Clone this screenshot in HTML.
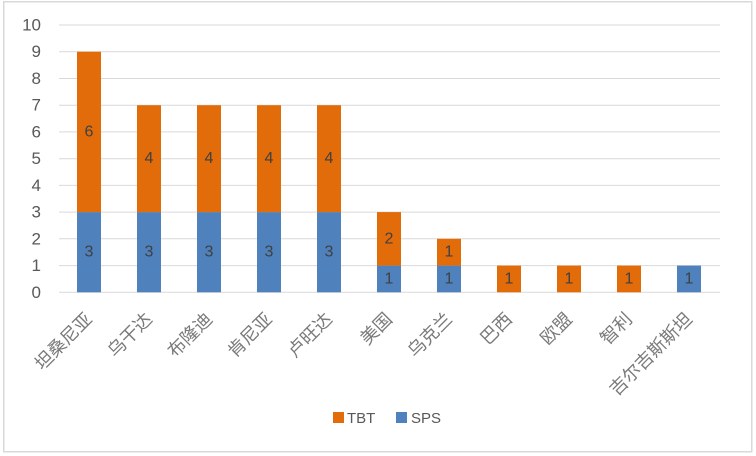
<!DOCTYPE html>
<html>
<head>
<meta charset="utf-8">
<style>
html,body{margin:0;padding:0;background:#fff;}
svg{display:block;}
</style>
</head>
<body>
<svg width="756" height="456" viewBox="0 0 756 456" xmlns="http://www.w3.org/2000/svg">
<rect x="0" y="0" width="756" height="456" fill="#fff"/>
<rect x="3.75" y="1.75" width="748" height="450" fill="#fff" stroke="#d9d9d9" stroke-width="1.5"/>
<!-- gridlines -->
<g stroke="#d9d9d9" stroke-width="1">
<line x1="59" x2="720" y1="25.0" y2="25.0"/>
<line x1="59" x2="720" y1="51.7" y2="51.7"/>
<line x1="59" x2="720" y1="78.5" y2="78.5"/>
<line x1="59" x2="720" y1="105.2" y2="105.2"/>
<line x1="59" x2="720" y1="131.9" y2="131.9"/>
<line x1="59" x2="720" y1="158.7" y2="158.7"/>
<line x1="59" x2="720" y1="185.4" y2="185.4"/>
<line x1="59" x2="720" y1="212.1" y2="212.1"/>
<line x1="59" x2="720" y1="238.8" y2="238.8"/>
<line x1="59" x2="720" y1="265.6" y2="265.6"/>
<line x1="59" x2="720" y1="292.3" y2="292.3"/>
</g>
<!-- y tick labels -->
<g font-family="Liberation Sans, sans-serif" font-size="17" fill="#595959" text-anchor="end" dominant-baseline="central">
<text x="41" y="25.0">10</text>
<text x="41" y="51.7">9</text>
<text x="41" y="78.5">8</text>
<text x="41" y="105.2">7</text>
<text x="41" y="131.9">6</text>
<text x="41" y="158.7">5</text>
<text x="41" y="185.4">4</text>
<text x="41" y="212.1">3</text>
<text x="41" y="238.8">2</text>
<text x="41" y="265.6">1</text>
<text x="41" y="292.3">0</text>
</g>
<!-- bars: SPS blue -->
<g fill="#4f81bd">
<rect x="77" y="212.1" width="24" height="80.2"/>
<rect x="137" y="212.1" width="24" height="80.2"/>
<rect x="197" y="212.1" width="24" height="80.2"/>
<rect x="257" y="212.1" width="24" height="80.2"/>
<rect x="317" y="212.1" width="24" height="80.2"/>
<rect x="377" y="265.6" width="24" height="26.7"/>
<rect x="437" y="265.6" width="24" height="26.7"/>
<rect x="677" y="265.6" width="24" height="26.7"/>
</g>
<!-- bars: TBT orange -->
<g fill="#e36c0a">
<rect x="77" y="51.7" width="24" height="160.4"/>
<rect x="137" y="105.2" width="24" height="106.9"/>
<rect x="197" y="105.2" width="24" height="106.9"/>
<rect x="257" y="105.2" width="24" height="106.9"/>
<rect x="317" y="105.2" width="24" height="106.9"/>
<rect x="377" y="212.1" width="24" height="53.5"/>
<rect x="437" y="238.8" width="24" height="26.8"/>
<rect x="497" y="265.6" width="24" height="26.7"/>
<rect x="557" y="265.6" width="24" height="26.7"/>
<rect x="617" y="265.6" width="24" height="26.7"/>
</g>
<!-- data labels -->
<g font-family="Liberation Sans, sans-serif" font-size="16" fill="#404040" text-anchor="middle" dominant-baseline="central">
<text x="89" y="252.2">3</text>
<text x="149" y="252.2">3</text>
<text x="209" y="252.2">3</text>
<text x="269" y="252.2">3</text>
<text x="329" y="252.2">3</text>
<text x="389" y="279">1</text>
<text x="449" y="279">1</text>
<text x="689" y="279">1</text>
<text x="89" y="131.9">6</text>
<text x="149" y="158.7">4</text>
<text x="209" y="158.7">4</text>
<text x="269" y="158.7">4</text>
<text x="329" y="158.7">4</text>
<text x="389" y="238.8">2</text>
<text x="449" y="252.2">1</text>
<text x="509" y="279">1</text>
<text x="569" y="279">1</text>
<text x="629" y="279">1</text>
</g>
<!-- category labels -->
<g font-family="Liberation Sans, Noto Sans CJK SC, sans-serif" font-size="18" fill="#7a7a7a" text-anchor="end" dominant-baseline="central">
<text x="89" y="316" transform="rotate(-45 89 316)">坦桑尼亚</text>
<text x="149" y="316" transform="rotate(-45 149 316)">乌干达</text>
<text x="209" y="316" transform="rotate(-45 209 316)">布隆迪</text>
<text x="269" y="316" transform="rotate(-45 269 316)">肯尼亚</text>
<text x="329" y="316" transform="rotate(-45 329 316)">卢旺达</text>
<text x="389" y="316" transform="rotate(-45 389 316)">美国</text>
<text x="449" y="316" transform="rotate(-45 449 316)">乌克兰</text>
<text x="509" y="316" transform="rotate(-45 509 316)">巴西</text>
<text x="569" y="316" transform="rotate(-45 569 316)">欧盟</text>
<text x="629" y="316" transform="rotate(-45 629 316)">智利</text>
<text x="689" y="316" transform="rotate(-45 689 316)">吉尔吉斯斯坦</text>
</g>
<!-- legend -->
<rect x="333" y="412" width="11" height="11" fill="#e36c0a"/>
<text x="347" y="423" font-family="Liberation Sans, sans-serif" font-size="15" fill="#595959">TBT</text>
<rect x="396" y="412" width="11" height="11" fill="#4f81bd"/>
<text x="411" y="423" font-family="Liberation Sans, sans-serif" font-size="15" fill="#595959">SPS</text>
</svg>
</body>
</html>
